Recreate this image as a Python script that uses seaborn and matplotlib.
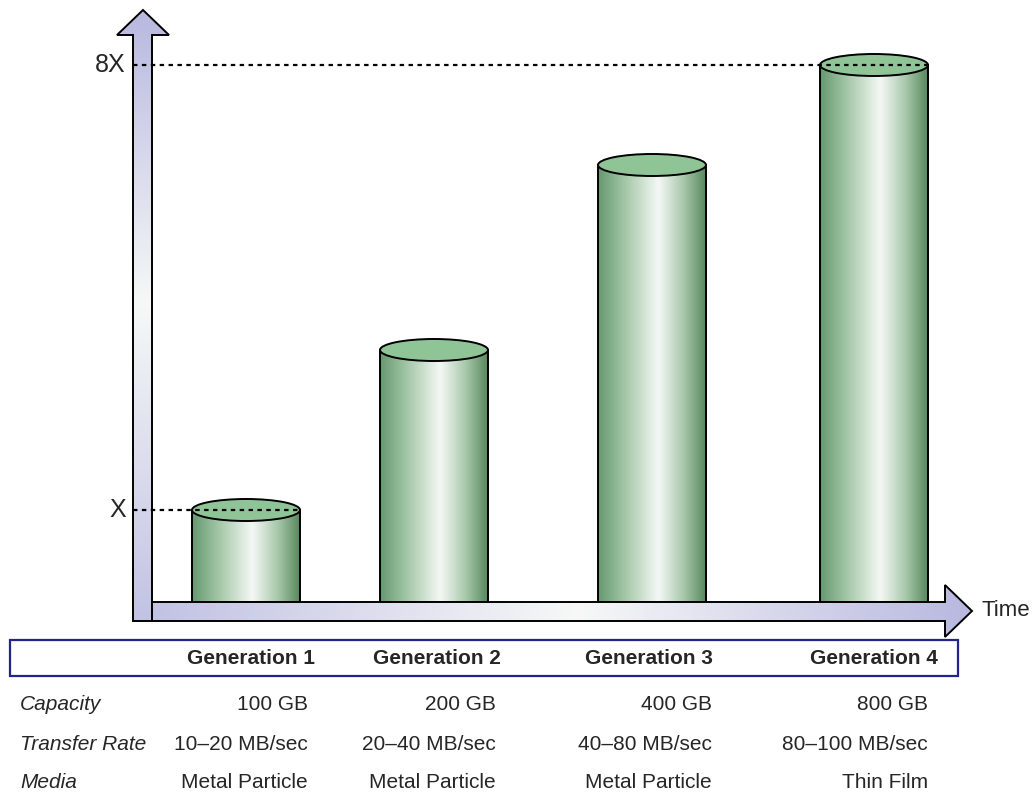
import numpy as np
import pandas as pd
import matplotlib
matplotlib.use("Agg")
import matplotlib.pyplot as plt
import seaborn as sns
from matplotlib.colors import LinearSegmentedColormap
from matplotlib.patches import Ellipse, Polygon, Rectangle

# --- data ---
generations = ["Generation 1", "Generation 2", "Generation 3", "Generation 4"]
capacity = ["100 GB", "200 GB", "400 GB", "800 GB"]
transfer_rate = ["10–20 MB/sec", "20–40 MB/sec", "40–80 MB/sec", "80–100 MB/sec"]
media = ["Metal Particle", "Metal Particle", "Metal Particle", "Thin Film"]
row_labels = ["Capacity", "Transfer Rate", "Media"]
# drawn cylinder heights (the artwork is not to scale)
bar_heights = [92, 252, 437, 537]
y_tick_labels = ["X", "8X"]

# --- layout (pixel units, y measured up from the time axis) ---
col_x = [246, 434, 652, 874]
value_right = [308, 496, 712, 928]
header_x = [251, 437, 649, 874]
bar_w = 108
row_y = [-102, -142, -180]

sns.set_style("white")
plt.rcParams["font.family"] = ["Liberation Sans", "DejaVu Sans"]

fig = plt.figure(figsize=(10.34, 7.96), dpi=100)
ax = fig.add_axes([0, 0, 1, 1])

df = pd.DataFrame({"x": col_x, "height": bar_heights})
sns.barplot(data=df, x="x", y="height", native_scale=True,
            width=bar_w / min(np.diff(col_x)), color="#8fc496",
            edgecolor="black", linewidth=1.4, errorbar=None, ax=ax)

cyl_cmap = LinearSegmentedColormap.from_list(
    "cyl", [(0, "#669870"), (0.22, "#9cc2a0"), (0.56, "#f5f8f5"),
            (0.8, "#a6c7a9"), (1, "#58885e")])
grad = np.linspace(0, 1, 256).reshape(1, -1)

bars = list(ax.patches)
for bar in bars:
    x0, w, h = bar.get_x(), bar.get_width(), bar.get_height()
    bar.set_facecolor("none")
    bar.set_zorder(3)
    ax.imshow(grad, cmap=cyl_cmap, extent=[x0, x0 + w, 0, h], aspect="auto",
              clip_path=bar, zorder=2, interpolation="bicubic")
    ax.add_patch(Ellipse((x0 + w / 2, h), w, 22, facecolor="#8fc496",
                         edgecolor="black", lw=1.4, zorder=4))

# dashed guides for X and 8X
for bar, lab in zip([bars[0], bars[-1]], y_tick_labels):
    h = bar.get_height()
    ax.plot([133, bar.get_x() + bar.get_width()], [h, h], color="black",
            lw=1.6, ls=(0, (2.0, 2.0)), zorder=7)
    ax.text(126, h, lab, ha="right", va="center", fontsize=18)

# axis arrows with lavender-white gradient
arrow_cmap = LinearSegmentedColormap.from_list(
    "arr", [(0, "#c2c2e4"), (0.52, "#f7f8f7"), (1, "#b8b8e0")])
v_arrow = Polygon([(133, -19), (152, -19), (152, 567), (169, 567), (143, 592),
                   (117, 567), (133, 567)], closed=True, facecolor="none",
                  edgecolor="black", lw=1.4, zorder=6)
h_arrow = Polygon([(152, 0), (945, 0), (945, 17), (972, -9), (945, -35),
                   (945, -19), (152, -19)], closed=True, facecolor="none",
                  edgecolor="black", lw=1.4, zorder=6)
for arr, img, ext in [(v_arrow, grad.T, [116, 170, -19, 592]),
                      (h_arrow, grad, [152, 972, -35, 17])]:
    ax.add_patch(arr)
    ax.imshow(img, cmap=arrow_cmap, extent=ext, aspect="auto",
              clip_path=arr, zorder=5, origin="lower")
ax.text(982, -9, "Time", ha="left", va="center", fontsize=16)

# table underneath
ax.add_patch(Rectangle((10, -74), 948, 36, facecolor="white",
                       edgecolor="#23238e", lw=1.6, zorder=5))
for hx, g in zip(header_x, generations):
    ax.text(hx, -56, g, ha="center", va="center", fontsize=15,
            fontweight="bold", zorder=6)
for ry, lab, vals in zip(row_y, row_labels, [capacity, transfer_rate, media]):
    ax.text(20, ry, lab, ha="left", va="center", fontsize=15, style="italic")
    for vx, v in zip(value_right, vals):
        ax.text(vx, ry, v, ha="right", va="center", fontsize=15)

ax.set_xlim(0, 1034)
ax.set_ylim(-194, 602)
ax.axis("off")
fig.savefig("out.png", dpi=100)
